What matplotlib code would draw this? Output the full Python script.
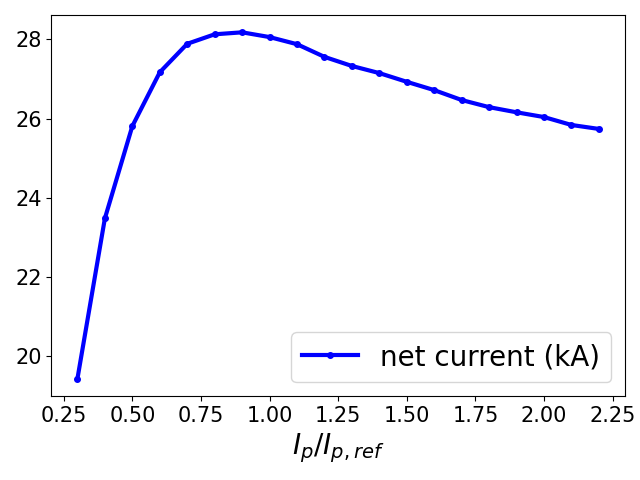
import matplotlib
matplotlib.use('Agg')
import matplotlib.pyplot as plt
import numpy as np

# データ
ip_ratio = [0.3, 0.4, 0.5, 0.6, 0.7, 0.8, 0.9, 1.0, 1.1, 1.2,
            1.3, 1.4, 1.5, 1.6, 1.7, 1.8, 1.9, 2.0, 2.1, 2.2]
net_current = [19.43, 23.48, 25.81, 27.17, 27.89, 28.13, 28.18, 28.06, 27.88, 27.56,
               27.33, 27.15, 26.93, 26.72, 26.47, 26.29, 26.16, 26.04, 25.84, 25.74]

fig = plt.figure(figsize=(6.4, 4.8), dpi=100)
ax = fig.add_subplot(1, 1, 1)
ax.plot(ip_ratio, net_current, color='blue', marker='o', markersize=4,
        linewidth=3, label='net current (kA)')
ax.set_xlabel(r'$I_p/I_{p,ref}$', fontsize=20)
ax.tick_params(labelsize=15)
ax.legend(loc='lower right', fontsize=20)
fig.tight_layout()
fig.savefig('out.png')
